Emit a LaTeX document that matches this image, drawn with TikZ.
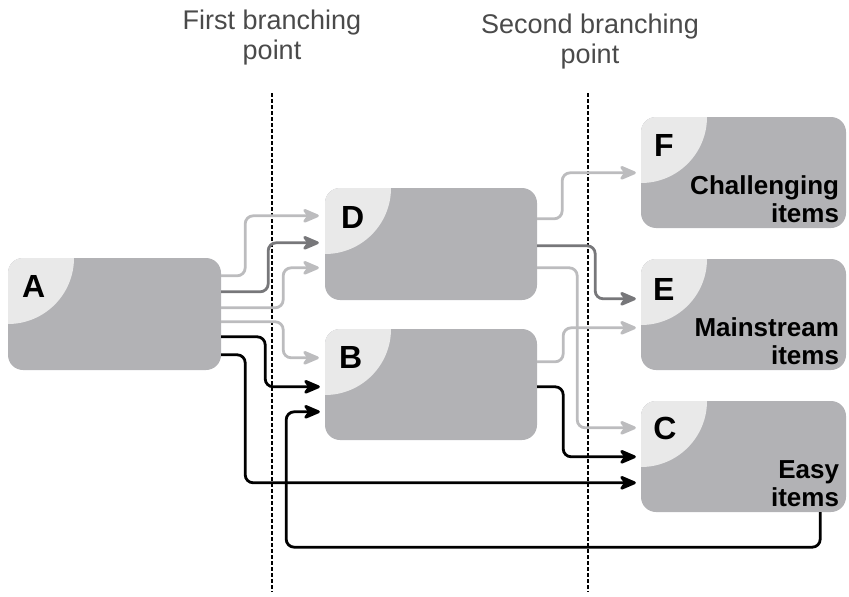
\documentclass[tikz,border=0pt]{standalone}
\usepackage{fontspec}
\setmainfont{Liberation Sans}
\usetikzlibrary{arrows.meta,calc}
\definecolor{boxfill}{HTML}{B2B2B5}
\definecolor{cornerfill}{HTML}{E9E9E9}
\definecolor{paleline}{HTML}{BCBCBE}
\definecolor{midline}{HTML}{77777A}
\definecolor{titlegray}{HTML}{4A4A4A}

\begin{document}
\begin{tikzpicture}[x=1pt,y=-1pt,
  stagebox/.style={fill=boxfill, rounded corners=15pt, minimum height=112pt,
    inner sep=0pt,
    path picture={\fill[cornerfill] (path picture bounding box.north west) circle[radius=66pt];}},
  letter/.style={font=\bfseries\fontsize{32}{36}\selectfont, inner sep=0pt},
  desc/.style={font=\bfseries\fontsize{26}{28.5}\selectfont, align=right, inner sep=0pt, anchor=south east},
  title/.style={font=\fontsize{27}{30}\selectfont, align=center, text=titlegray, inner sep=0pt},
  divider/.style={line width=1.1pt, dash pattern=on 3.5pt off 2.5pt},
  conn/.style={line width=2.8pt, rounded corners=8pt,
    -{Stealth[length=20pt,width=17pt,inset=6pt,round=false]}},
  pale/.style={conn, draw=paleline},
  mid/.style={conn, draw=midline},
  strong/.style={conn, draw=black}]

\useasboundingbox (0,0) rectangle (849,597);

% headings and the two dashed dividers
\node[title] (t1) at (272,38) {First branching\\point};
\node[title] (t2) at (590,42) {Second branching\\point};
\coordinate (d1top) at (272,93);
\coordinate (d1bot) at (272,592);
\coordinate (d2top) at (588,93);
\coordinate (d2bot) at (588,592);
\draw[divider] (d1top) -- (d1bot);
\draw[divider] (d2top) -- (d2bot);

% stages
\node[stagebox, minimum width=213pt] (A) at (114.5,314) {};
\node[stagebox, minimum width=212pt] (D) at (431,244) {};
\node[stagebox, minimum width=212pt, minimum height=111pt] (B) at (431,384.5) {};
\node[stagebox, minimum width=205pt, minimum height=111pt] (F) at (743.5,172.5) {};
\node[stagebox, minimum width=205pt, minimum height=111pt] (E) at (743.5,314.5) {};
\node[stagebox, minimum width=205pt, minimum height=111pt] (C) at (743.5,456.5) {};

\node[letter] (lA) at ([shift={(26,29)}]A.north west) {A};
\node[letter] (lD) at ([shift={(28,30)}]D.north west) {D};
\node[letter] (lB) at ([shift={(26,29)}]B.north west) {B};
\node[letter] (lF) at ([shift={(23,29)}]F.north west) {F};
\node[letter] (lE) at ([shift={(23,31)}]E.north west) {E};
\node[letter] (lC) at ([shift={(24,28)}]C.north west) {C};

\node[desc] (tF) at ([shift={(-7,-5)}]F.south east) {Challenging\\items};
\node[desc] (tE) at ([shift={(-7,-5)}]E.south east) {Mainstream\\items};
\node[desc] (tC) at ([shift={(-7,-5)}]C.south east) {Easy\\items};

% first branching point: out of A
\draw[pale]   ([shift={(0,18)}]A.north east) -- ++(24,0) |- ([shift={(-6,28)}]D.north west);
\draw[mid]    ([shift={(0,34)}]A.north east) -- ++(47,0) |- ([shift={(-6,55)}]D.north west);
\draw[pale]   ([shift={(0,50)}]A.north east) -- ++(62,0) |- ([shift={(-6,80)}]D.north west);
\draw[pale]   ([shift={(0,64)}]A.north east) -- ++(62,0) |- ([shift={(-6,29)}]B.north west);
\draw[strong] ([shift={(0,79)}]A.north east) -- ++(44,0) |- ([shift={(-5,58)}]B.north west);
\draw[strong] ([shift={(0,97)}]A.north east) -- ++(24,0) |- ([shift={(-5,82)}]C.north west);

% second branching point: out of D and B
\draw[pale]   ([shift={(0,31)}]D.north east) -- ++(25,0) |- ([shift={(-5,56)}]F.north west);
\draw[mid]    ([shift={(0,58)}]D.north east) -- ++(58,0) |- ([shift={(-5,40)}]E.north west);
\draw[pale]   ([shift={(0,80)}]D.north east) -- ++(40,0) |- ([shift={(-5,27)}]C.north west);
\draw[pale]   ([shift={(0,33)}]B.north east) -- ++(26,0) |- ([shift={(-5,69)}]E.north west);
\draw[strong] ([shift={(0,58)}]B.north east) -- ++(26,0) |- ([shift={(-5,56)}]C.north west);

% loop back from C into B
\draw[strong] ([shift={(-26,0)}]C.south east) -- ++(0,35) -- ++(-534,0) |- ([shift={(-5,83)}]B.north west);
\end{tikzpicture}
\end{document}
